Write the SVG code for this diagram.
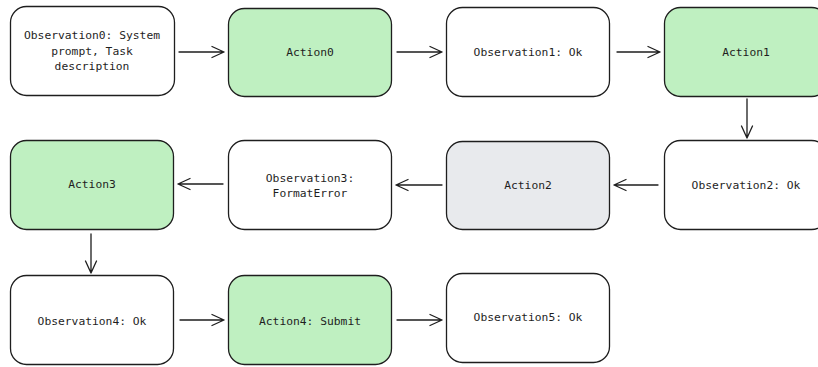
<svg xmlns="http://www.w3.org/2000/svg" width="818" height="367" viewBox="0 0 818 367">
  <defs>
    <style>
      .box { stroke: #1e1e1e; stroke-width: 1.3; }
      .obs { fill: #ffffff; }
      .act { fill: #bff0c1; }
      .err { fill: #e8eaed; }
      .lbl { font-family: "DejaVu Sans Mono", "Liberation Mono", monospace; font-size: 11.3px; fill: #1e1e1e; text-anchor: middle; }
      .edge { fill: none; stroke: #1e1e1e; stroke-width: 1.3; stroke-linecap: round; stroke-linejoin: round; }
    </style>
  </defs>
  <rect width="818" height="367" fill="#ffffff"/>

  <!-- row 1 -->
  <g id="observation0">
    <rect class="box obs" x="10.5" y="6.5" width="164" height="89" rx="16"/>
    <text class="lbl" x="92" y="39">Observation0: System</text>
    <text class="lbl" x="92" y="55">prompt, Task</text>
    <text class="lbl" x="92" y="70">description</text>
  </g>
  <g id="action0">
    <rect class="box act" x="228.5" y="8.5" width="163" height="88" rx="16"/>
    <text class="lbl" x="310" y="56">Action0</text>
  </g>
  <g id="observation1">
    <rect class="box obs" x="446.5" y="7.5" width="163" height="89" rx="16"/>
    <text class="lbl" x="528" y="56">Observation1: Ok</text>
  </g>
  <g id="action1">
    <rect class="box act" x="664.5" y="7.5" width="163" height="89" rx="16"/>
    <text class="lbl" x="746" y="56">Action1</text>
  </g>

  <!-- row 2 -->
  <g id="observation2">
    <rect class="box obs" x="664.5" y="140.5" width="163" height="89" rx="16"/>
    <text class="lbl" x="746" y="189">Observation2: Ok</text>
  </g>
  <g id="action2">
    <rect class="box err" x="446.5" y="141.5" width="163" height="88" rx="16"/>
    <text class="lbl" x="528" y="189">Action2</text>
  </g>
  <g id="observation3">
    <rect class="box obs" x="228.5" y="140.5" width="163" height="89" rx="16"/>
    <text class="lbl" x="310" y="182">Observation3:</text>
    <text class="lbl" x="310" y="197">FormatError</text>
  </g>
  <g id="action3">
    <rect class="box act" x="10.5" y="140.5" width="163" height="89" rx="16"/>
    <text class="lbl" x="92" y="188">Action3</text>
  </g>

  <!-- row 3 -->
  <g id="observation4">
    <rect class="box obs" x="10.5" y="275.5" width="163" height="89" rx="16"/>
    <text class="lbl" x="92" y="325">Observation4: Ok</text>
  </g>
  <g id="action4">
    <rect class="box act" x="228.5" y="275.5" width="163" height="89" rx="16"/>
    <text class="lbl" x="310" y="325">Action4: Submit</text>
  </g>
  <g id="observation5">
    <rect class="box obs" x="446.5" y="273.5" width="163" height="89" rx="16"/>
    <text class="lbl" x="528" y="321">Observation5: Ok</text>
  </g>

  <!-- connectors -->
  <g id="connectors">
    <path class="edge" d="M179 52 H224 M212 46.5 L224 52 L212 57.5"/>
    <path class="edge" d="M397 52 H442 M430 46.5 L442 52 L430 57.5"/>
    <path class="edge" d="M617 52 H660 M648 46.5 L660 52 L648 57.5"/>
    <path class="edge" d="M747 99 V138 M741.5 126 L747 138 L752.5 126"/>
    <path class="edge" d="M658 185 H614 M626 179.5 L614 185 L626 190.5"/>
    <path class="edge" d="M442 185 H396 M408 179.5 L396 185 L408 190.5"/>
    <path class="edge" d="M223 184 H178 M190 178.5 L178 184 L190 189.5"/>
    <path class="edge" d="M91 234 V273 M85.5 261 L91 273 L96.5 261"/>
    <path class="edge" d="M180 320 H224 M212 314.5 L224 320 L212 325.5"/>
    <path class="edge" d="M397 320 H442 M430 314.5 L442 320 L430 325.5"/>
  </g>
</svg>
